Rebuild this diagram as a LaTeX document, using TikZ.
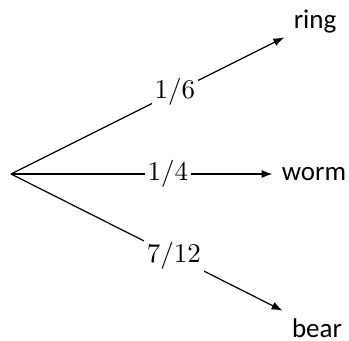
\documentclass[tikz,border=0pt]{standalone}
\usepackage{fontspec}
\newfontfamily\leaffont{Carlito}
\usetikzlibrary{arrows.meta,positioning}

\begin{document}
\begin{tikzpicture}[
    x=0.01302cm, y=0.01302cm,
    leaf/.style={
        font=\leaffont
    },
    prob/.style={
        fill=white,
        inner sep=1pt,
        font=\fontsize{10.3}{12}\selectfont,
        pos=0.6
    },
    branch/.style={
        -{Latex[length=4pt,width=3pt]},
        line width=0.45pt
    }
]
    \useasboundingbox (0,0) rectangle (349,340);

    % The root of the tree
    \coordinate (root) at (11,166);

    % The three outcomes
    \node[leaf] (ring) at (315,318) {ring};
    \node[leaf] (worm) at (314,166) {worm};
    \node[leaf] (bear) at (317,12) {bear};

    % Branches with their probabilities
    \draw[branch] (root) -- node[prob] {$1/6$} (ring);
    \draw[branch] (root) -- node[prob] {$1/4$} (worm);
    \draw[branch] (root) -- node[prob] {$7/12$} (bear);

\end{tikzpicture}
\end{document}
